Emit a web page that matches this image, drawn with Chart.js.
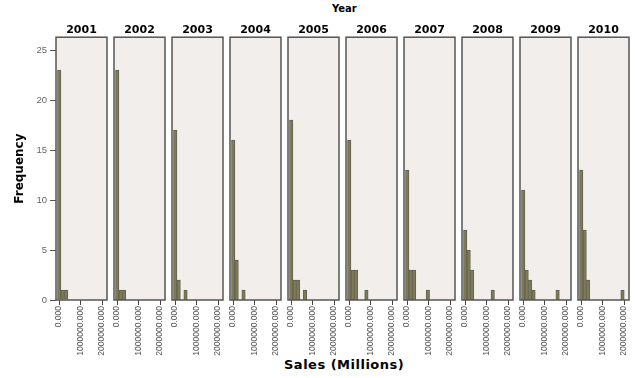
<!DOCTYPE html>
<html>
<head>
<meta charset="utf-8">
<script src="https://cdn.jsdelivr.net/npm/chart.js@4/dist/chart.umd.min.js"></script>
<style>
    body { margin: 0; background: #fff; width: 635px; height: 378px; overflow: hidden; position: relative; font-family: "DejaVu Sans", sans-serif; }
    canvas { position: absolute; top: 22px; }
    .label { position: absolute; font-weight: bold; color: #000; white-space: nowrap; }
</style>
</head>
<body>
<div class="label" id="top-title" style="left: 332px; top: 3px; font-size: 10px;">Year</div>
<div class="label" id="bottom-title" style="left: 284px; top: 357px; font-size: 13px; letter-spacing: 0.5px;">Sales (Millions)</div>
<div id="panels"></div>
<script>
const years = ['2001', '2002', '2003', '2004', '2005', '2006', '2007', '2008', '2009', '2010'];

// frequencies per bin, bin 0 starts at binStart
const freq2001 = [23, 1, 1];
const freq2002 = [23, 1, 1];
const freq2003 = [17, 2, 0, 1];
const freq2004 = [16, 4, 0, 1];
const freq2005 = [18, 2, 2, 0, 1];
const freq2006 = [16, 3, 3, 0, 0, 1];
const freq2007 = [13, 3, 3, 0, 0, 0, 1];
const freq2008 = [7, 5, 3, 0, 0, 0, 0, 0, 1];
const freq2009 = [11, 3, 2, 1, 0, 0, 0, 0, 0, 0, 1];
const freq2010 = [13, 7, 2, 0, 0, 0, 0, 0, 0, 0, 0, 0, 1];
const frequencies = [freq2001, freq2002, freq2003, freq2004, freq2005, freq2006, freq2007, freq2008, freq2009, freq2010];

const binStart = -70000;
const binWidth = 160000;
const xTicks = [0, 1000000, 2000000];
const yTicks = [0, 5, 10, 15, 20, 25];
const xMin = -139535;
const xMax = 2232558;
const yMax = 26.3;

const panelsDiv = document.getElementById('panels');
const firstLeft = 56;
const panelStep = 58;
const panelWidth = 51;
const yAxisWidth = 44;
const xAxisHeight = 60;
const canvasHeight = 338;

const panelPlugin = {
    id: 'panelFrame',
    beforeDatasetsDraw: (chart) => {
        const { ctx, chartArea: a } = chart;
        ctx.save();
        ctx.fillStyle = '#f1eeec';
        ctx.fillRect(a.left, a.top, a.right - a.left, a.bottom - a.top);
        ctx.restore();
    },
    afterDatasetsDraw: (chart) => {
        const { ctx, chartArea: a } = chart;
        ctx.save();
        ctx.strokeStyle = '#555555';
        ctx.lineWidth = 1.5;
        ctx.strokeRect(a.left, a.top, a.right - a.left, a.bottom - a.top);
        ctx.restore();
    }
};

const makePanel = (i) => {
    const first = i === 0;
    const panelLeft = firstLeft + panelStep * i;
    const canvas = document.createElement('canvas');
    const left = first ? panelLeft - yAxisWidth : panelLeft - 2;
    const width = first ? yAxisWidth + panelWidth + 2 : panelWidth + 4;
    canvas.width = width;
    canvas.height = canvasHeight;
    canvas.style.left = left + 'px';
    canvas.style.width = width + 'px';
    canvas.style.height = canvasHeight + 'px';
    panelsDiv.appendChild(canvas);

    const data = frequencies[i].map((f, k) => ({ x: binStart + binWidth * (k + 0.5), y: f }));

    new Chart(canvas, {
        type: 'bar',
        data: {
            datasets: [{
                data: data,
                backgroundColor: '#7f7a50',
                borderColor: '#626258',
                borderWidth: 1,
                barPercentage: 1,
                categoryPercentage: 1
            }]
        },
        options: {
            responsive: false,
            animation: false,
            devicePixelRatio: 1,
            layout: { padding: { left: first ? 0 : 2, right: 2, top: 0, bottom: 0 } },
            plugins: {
                legend: { display: false },
                tooltip: { enabled: false },
                title: {
                    display: true,
                    text: years[i],
                    fullSize: false,
                    color: '#000',
                    font: { family: 'DejaVu Sans', size: 11, weight: 'bold' },
                    padding: { top: 2, bottom: 0 }
                }
            },
            scales: {
                x: {
                    type: 'linear',
                    min: xMin,
                    max: xMax,
                    offset: false,
                    afterBuildTicks: (scale) => { scale.ticks = xTicks.map(v => ({ value: v })); },
                    afterFit: (scale) => {
                        scale.height = xAxisHeight;
                        scale.paddingLeft = 0;
                        scale.paddingRight = 0;
                    },
                    border: { display: false },
                    grid: { offset: false, drawOnChartArea: false, drawTicks: true, tickLength: 5, color: '#444444', lineWidth: 1 },
                    ticks: {
                        minRotation: 90,
                        maxRotation: 90,
                        autoSkip: false,
                        padding: 1,
                        color: '#555555',
                        font: { family: 'Liberation Sans', size: 8.5 },
                        callback: (v) => Number(v).toFixed(3)
                    }
                },
                y: {
                    display: first,
                    min: 0,
                    max: yMax,
                    afterBuildTicks: (scale) => { scale.ticks = yTicks.map(v => ({ value: v })); },
                    afterFit: (scale) => {
                        if (!first) return;
                        scale.width = yAxisWidth;
                        scale.paddingTop = 0;
                        scale.paddingBottom = 0;
                    },
                    border: { display: false },
                    grid: { drawOnChartArea: false, drawTicks: true, tickLength: 6, color: '#555555' },
                    ticks: {
                        padding: 3,
                        color: '#666666',
                        font: { family: 'Liberation Sans', size: 9.5 }
                    },
                    title: {
                        display: true,
                        text: 'Frequency',
                        color: '#000',
                        font: { family: 'DejaVu Sans', size: 12, weight: 'bold' },
                        padding: { top: 1, bottom: 0 }
                    }
                }
            }
        },
        plugins: [panelPlugin]
    });
};

years.forEach((year, i) => makePanel(i));
</script>
</body>
</html>
